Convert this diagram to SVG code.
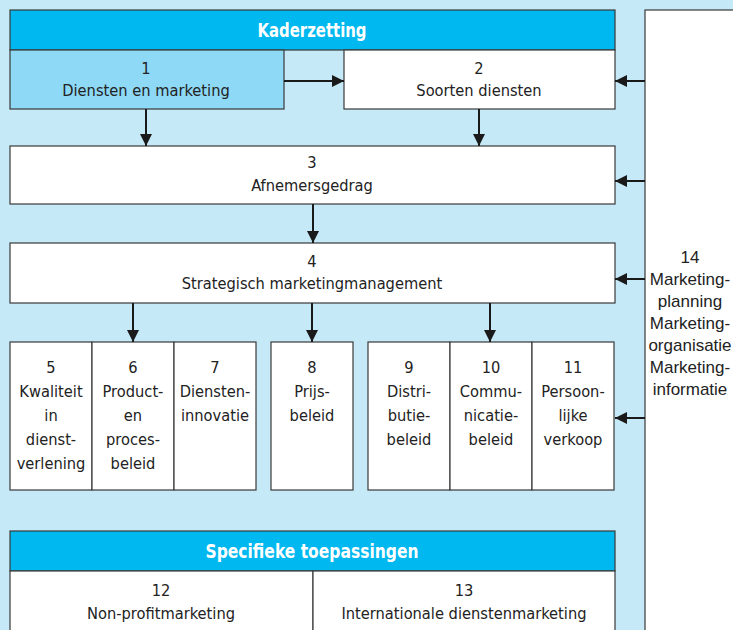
<svg xmlns="http://www.w3.org/2000/svg" width="733" height="630" viewBox="0 0 733 630">
  <defs>
    <marker id="arrow" viewBox="0 0 10 10" refX="10" refY="5" markerWidth="12" markerHeight="12" markerUnits="userSpaceOnUse" orient="auto">
      <path d="M0,0 L10,5 L0,10 Z" fill="#1a1a1a"/>
    </marker>
    <style>
      .box { fill: #ffffff; stroke: #3a3a3a; stroke-width: 1.2; }
      .light { fill: #8dd9f6; stroke: #3a3a3a; stroke-width: 1.2; }
      .head { fill: #00b8f0; stroke: #3a3a3a; stroke-width: 1.2; }
      .t { font-family: "Liberation Sans Narrow", "DejaVu Sans Condensed", "Liberation Sans", sans-serif; font-size: 16.3px; fill: #222; text-anchor: middle; }
      .h { font-family: "Liberation Sans Narrow", "DejaVu Sans Condensed", "Liberation Sans", sans-serif; font-size: 20px; font-weight: bold; fill: #ffffff; text-anchor: middle; }
      .r { font-family: "Liberation Sans", "Noto Sans", sans-serif; font-size: 17px; fill: #222; text-anchor: middle; }
      .c { stroke: #1a1a1a; stroke-width: 2; fill: none; marker-end: url(#arrow); }
    </style>
  </defs>

  <!-- background -->
  <rect x="0" y="0" width="733" height="630" fill="#c6e9f8"/>

  <!-- side panel 14 -->
  <g id="n14">
    <rect x="645" y="10" width="100" height="630" class="box"/>
    <text class="r" x="690" y="263">14</text>
    <text class="r" x="690" y="285">Marketing-</text>
    <text class="r" x="690" y="307">planning</text>
    <text class="r" x="690" y="329">Marketing-</text>
    <text class="r" x="690" y="351">organisatie</text>
    <text class="r" x="690" y="373">Marketing-</text>
    <text class="r" x="690" y="395">informatie</text>
  </g>

  <!-- Kaderzetting header -->
  <g id="kaderzetting">
    <rect x="10" y="10" width="605" height="40" class="head"/>
    <text class="h" x="312" y="37" textLength="109" lengthAdjust="spacingAndGlyphs">Kaderzetting</text>
  </g>

  <g id="n1">
    <rect x="10" y="50" width="274" height="59" class="light"/>
    <text class="t" x="146" y="74">1</text>
    <text class="t" x="146" y="96">Diensten en marketing</text>
  </g>

  <g id="n2">
    <rect x="344" y="50" width="271" height="59" class="box"/>
    <text class="t" x="479" y="74">2</text>
    <text class="t" x="479" y="96">Soorten diensten</text>
  </g>

  <g id="n3">
    <rect x="10" y="146" width="605" height="58" class="box"/>
    <text class="t" x="312" y="168">3</text>
    <text class="t" x="312" y="191">Afnemersgedrag</text>
  </g>

  <g id="n4">
    <rect x="10" y="243" width="605" height="60" class="box"/>
    <text class="t" x="312" y="267">4</text>
    <text class="t" x="312" y="289">Strategisch marketingmanagement</text>
  </g>

  <!-- 5-7 -->
  <g id="n5">
    <rect x="10" y="342" width="82" height="148" class="box"/>
    <text class="t" x="51" y="373">5</text>
    <text class="t" x="51" y="397">Kwaliteit</text>
    <text class="t" x="51" y="421">in</text>
    <text class="t" x="51" y="445">dienst-</text>
    <text class="t" x="51" y="469">verlening</text>
  </g>
  <g id="n6">
    <rect x="92" y="342" width="82" height="148" class="box"/>
    <text class="t" x="133" y="373">6</text>
    <text class="t" x="133" y="397">Product-</text>
    <text class="t" x="133" y="421">en</text>
    <text class="t" x="133" y="445">proces-</text>
    <text class="t" x="133" y="469">beleid</text>
  </g>
  <g id="n7">
    <rect x="174" y="342" width="82" height="148" class="box"/>
    <text class="t" x="215" y="373">7</text>
    <text class="t" x="215" y="397">Diensten-</text>
    <text class="t" x="215" y="421">innovatie</text>
  </g>

  <g id="n8">
    <rect x="271" y="342" width="82" height="148" class="box"/>
    <text class="t" x="312" y="373">8</text>
    <text class="t" x="312" y="397">Prijs-</text>
    <text class="t" x="312" y="421">beleid</text>
  </g>

  <!-- 9-11 -->
  <g id="n9">
    <rect x="368" y="342" width="82" height="148" class="box"/>
    <text class="t" x="409" y="373">9</text>
    <text class="t" x="409" y="397">Distri-</text>
    <text class="t" x="409" y="421">butie-</text>
    <text class="t" x="409" y="445">beleid</text>
  </g>
  <g id="n10">
    <rect x="450" y="342" width="82" height="148" class="box"/>
    <text class="t" x="491" y="373">10</text>
    <text class="t" x="491" y="397">Commu-</text>
    <text class="t" x="491" y="421">nicatie-</text>
    <text class="t" x="491" y="445">beleid</text>
  </g>
  <g id="n11">
    <rect x="532" y="342" width="82" height="148" class="box"/>
    <text class="t" x="573" y="373">11</text>
    <text class="t" x="573" y="397">Persoon-</text>
    <text class="t" x="573" y="421">lijke</text>
    <text class="t" x="573" y="445">verkoop</text>
  </g>

  <!-- Specifieke toepassingen -->
  <g id="specifiek">
    <rect x="10" y="531" width="605" height="40" class="head"/>
    <text class="h" x="312" y="558" textLength="213" lengthAdjust="spacingAndGlyphs">Specifieke toepassingen</text>
  </g>
  <g id="n12">
    <rect x="10" y="571" width="303" height="70" class="box"/>
    <text class="t" x="161" y="596">12</text>
    <text class="t" x="161" y="619">Non-profitmarketing</text>
  </g>
  <g id="n13">
    <rect x="313" y="571" width="302" height="70" class="box"/>
    <text class="t" x="464" y="596">13</text>
    <text class="t" x="464" y="619">Internationale dienstenmarketing</text>
  </g>

  <!-- connectors -->
  <g id="connectors">
    <line x1="284" y1="81" x2="344" y2="81" class="c"/>
    <line x1="146" y1="109" x2="146" y2="146" class="c"/>
    <line x1="479" y1="109" x2="479" y2="146" class="c"/>
    <line x1="313" y1="204" x2="313" y2="243" class="c"/>
    <line x1="133" y1="303" x2="133" y2="342" class="c"/>
    <line x1="312" y1="303" x2="312" y2="342" class="c"/>
    <line x1="490" y1="303" x2="490" y2="342" class="c"/>
    <line x1="645" y1="81" x2="615" y2="81" class="c"/>
    <line x1="645" y1="181" x2="615" y2="181" class="c"/>
    <line x1="645" y1="279" x2="615" y2="279" class="c"/>
    <line x1="645" y1="418" x2="615" y2="418" class="c"/>
  </g>
</svg>
